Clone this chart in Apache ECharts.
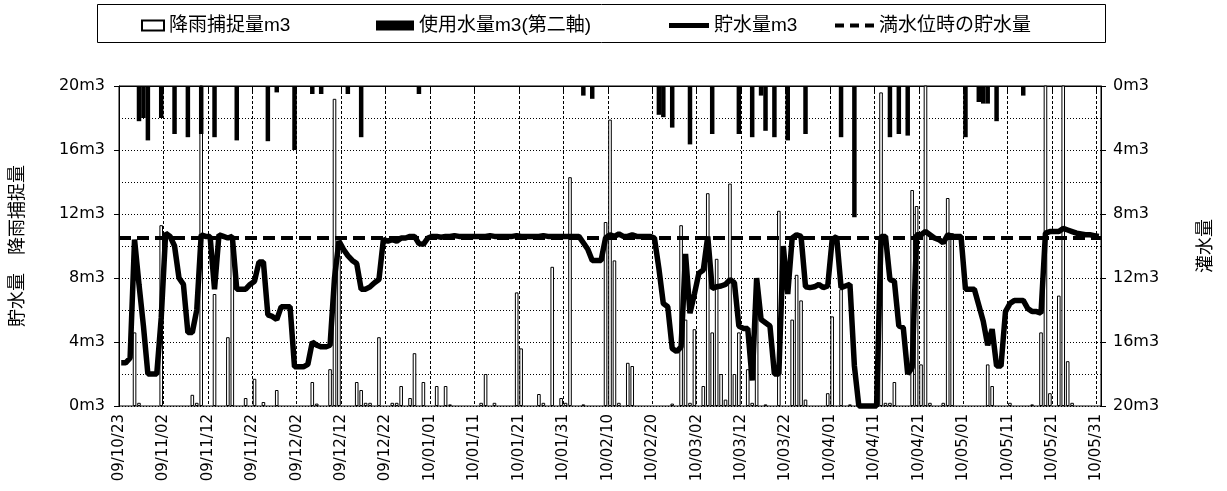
<!DOCTYPE html>
<html><head><meta charset="utf-8">
<script src="https://cdn.jsdelivr.net/npm/echarts@6/dist/echarts.min.js"></script>
<style>html,body{margin:0;padding:0;background:#fff}#c{width:1227px;height:491px}</style>
</head><body><div id="c"></div>
<script>
// ---- data ----
const START_DATE = '2009-10-23';
const DAY_COUNT = 221;
const FULL_LEVEL = 10.5;  // 満水位時の貯水量

// 降雨捕捉量 m3 (left axis), one value per day, 10 per line starting at each tick date
const rain = [
  0,0,0,4.6,0.2,0,0,0,0,11.3,
  0,0,0,0,0,0,0.7,0.2,21,0,
  0,7.0,0,0,4.3,10.5,0,0,0.5,0,
  1.7,0,0.25,0,0,1.0,0,0,0,0,
  0,0,0,1.5,0.15,0,0,2.3,19.2,9.4,
  0,0,0,1.5,1.0,0.2,0.2,0,4.3,0,
  0,0.2,0.2,1.25,0,0.5,3.3,0,1.5,0,
  0,1.25,0,1.25,0.1,0,0,0,0,0,
  0,0.2,2.0,0,0.2,0,0,0,0,7.1,
  3.6,0,0,0,0.75,0.2,0,8.7,0,0.5,
  0.2,14.3,0,0,0.1,0,0,0,0,11.5,
  17.9,9.1,0.2,0,2.7,2.5,0,0,0,0,
  0,0,0,0,0.15,0,11.3,5.4,0.2,4.8,
  0,1.25,13.3,4.6,9.2,2.0,0.4,13.9,2.0,4.6,
  0,2.3,0.2,7.9,0,0.1,0,0,12.2,0,
  0,5.4,8.2,6.6,0.4,0,0,0,0,0.8,
  5.6,0,7.3,0,0.1,0,0,0,0,0,
  0,19.6,0.2,0.2,1.5,0,0,0,13.5,12.5,
  2.6,21,0.2,0,0,0.2,13.0,10.8,0,0,
  0,0,0,0,0,2.6,1.25,0,0,0,
  0.2,0,0,0,0,0.1,0,4.6,21,0.8,
  0,6.9,21,2.8,0.2,0,0,0,0,0,
  0
];

// 使用水量 m3 (second axis, inverted)
const usage = [
  0,0,0,0,2.2,2.0,3.4,0,0,2.0,
  0,0,3.0,0,0,3.2,0,0,3.0,0,
  0,3.2,0,0,0,0,3.4,0,0,0,
  0,0,0,3.45,0,0.4,0,0,0,4.0,
  0,0,0,0.5,0,0.5,0,0,0,0,
  0,0.5,0,0,3.2,0,0,0,0,0,
  0,0,0,0,0,0,0,0.5,0,0,
  0,0,0,0,0,0,0,0,0,0,
  0,0,0,0,0,0,0,0,0,0,
  0,0,0,0,0,0,0,0,0,0,
  0,0,0,0,0.6,0,0.8,0,0,0,
  0,0,0,0,0,0,0,0,0,0,
  0,1.8,1.95,0,2.6,0,0,0,3.65,0,
  0,0,0,3.0,0,0,0,0,0,3.0,
  0,0,3.2,0,0.6,2.8,0,3.2,0,0,
  3.4,0,0,0,3.0,0,0,0,0,0,
  0,0,3.2,0,0,8.2,0,0,0,0,
  0,0,0,3.2,0,3.0,0,3.1,0,0,
  0,0,0,0,0,0,0,0,0,0,
  3.2,0,0,1.0,1.1,1.1,0,2.2,0,0,
  0,0,0,0.6,0,0,0,0,0,0,
  0,0,0,0,0,0,0,0,0,0,
  0
];

// 貯水量 m3
const storage = [
  2.7,2.7,3.0,10.4,7.6,5.0,2.0,2.0,2.0,5.5,
  10.8,10.6,10.0,8.0,7.6,4.6,4.6,6.0,10.7,10.6,
  10.6,7.3,10.7,10.6,10.5,10.6,7.3,7.3,7.3,7.6,
  7.8,9.0,9.0,5.7,5.6,5.4,6.2,6.2,6.2,2.45,
  2.45,2.45,2.6,4.0,3.8,3.7,3.7,3.8,8.0,10.3,
  9.8,9.4,9.1,8.9,7.3,7.3,7.45,7.7,7.9,10.4,
  10.3,10.4,10.3,10.5,10.5,10.6,10.6,10.15,10.1,10.5,
  10.6,10.6,10.55,10.6,10.6,10.65,10.6,10.6,10.6,10.6,
  10.6,10.6,10.6,10.65,10.6,10.6,10.6,10.6,10.6,10.65,
  10.6,10.6,10.6,10.6,10.6,10.65,10.6,10.6,10.6,10.6,
  10.6,10.6,10.6,10.6,10.2,9.8,9.1,9.1,9.1,10.5,
  10.7,10.6,10.75,10.6,10.6,10.7,10.6,10.6,10.6,10.6,
  10.5,8.6,6.4,6.2,3.6,3.4,3.7,9.5,5.8,7.0,
  8.3,8.5,10.6,7.35,7.45,7.5,7.6,7.9,7.7,5.0,
  4.85,4.85,1.6,8.0,5.4,5.2,5.0,2.0,2.0,10.0,
  7.0,10.5,10.7,10.6,7.45,7.4,7.45,7.6,7.4,7.5,
  10.4,10.6,7.4,7.5,7.6,2.5,0,0,0,0,
  0,10.6,10.6,7.9,7.8,5.0,4.9,2.0,2.4,10.7,
  10.7,10.9,10.7,10.5,10.4,10.2,10.7,10.6,10.6,10.6,
  7.3,7.3,7.3,6.3,5.3,3.8,4.8,2.5,2.5,5.9,
  6.4,6.6,6.6,6.6,6.1,5.9,5.9,5.8,10.8,10.9,
  10.9,10.9,11.1,11.0,10.9,10.8,10.75,10.7,10.7,10.65,
  10.6
];

// ---- categories (one per day) ----
function fmt(d) {
  const yy = String(d.getUTCFullYear() % 100).padStart(2, '0');
  const mm = String(d.getUTCMonth() + 1).padStart(2, '0');
  const dd = String(d.getUTCDate()).padStart(2, '0');
  return yy + '/' + mm + '/' + dd;
}
const days = [];
const t0 = Date.parse(START_DATE + 'T00:00:00Z');
for (let i = 0; i <= DAY_COUNT; i++) days.push(fmt(new Date(t0 + i * 86400000)));
const dayCats = days.slice(0, DAY_COUNT);      // bands for the data
const boundaryCats = days;                      // DAY_COUNT+1 band boundaries for labels

const nz = a => a.map(v => (v === 0 ? null : v));

const FONT = 'Liberation Sans, "Noto Sans CJK JP", sans-serif';
const chart = echarts.init(document.getElementById('c'), null, {renderer: 'canvas'});
const hiddenCat = {
  type: 'category', data: dayCats, boundaryGap: true, gridIndex: 0,
  axisLine: {show: false}, axisTick: {show: false}, axisLabel: {show: false}, splitLine: {show: false}
};
const legText = {fontSize: 19, fontFamily: FONT, color: '#000'};
chart.setOption({
  animation: false,
  backgroundColor: '#fff',
  textStyle: {fontFamily: FONT, color: '#000'},
  grid: {left: 119, right: 126, top: 86, bottom: 85, show: true, borderColor: '#000', borderWidth: 1},
  graphic: [{
    type: 'rect', left: 95, top: 2, silent: true,
    shape: {width: 1008, height: 38},
    style: {fill: 'none', stroke: '#000', lineWidth: 1}
  }],
  legend: [
    {data: ['降雨捕捉量m3'], left: 136, top: 11, icon: 'rect', itemWidth: 22, itemHeight: 10, selectedMode: false, textStyle: legText},
    {data: ['使用水量m3(第二軸)'], left: 371, top: 11, icon: 'rect', itemWidth: 38, itemHeight: 10, selectedMode: false, textStyle: legText},
    {data: ['貯水量m3'], left: 664, top: 11, icon: 'rect', itemWidth: 40, itemHeight: 5, selectedMode: false, textStyle: legText,
     itemStyle: {color: '#000', borderWidth: 0}},
    {data: ['満水位時の貯水量'], left: 830, top: 11,
     icon: 'path://M0,0H9V4H0Z M15,0H24V4H15Z M30,0H39V4H30Z',
     itemWidth: 39, itemHeight: 4, selectedMode: false, textStyle: legText,
     itemStyle: {color: '#000', borderWidth: 0}}
  ],
  xAxis: [
    Object.assign({}, hiddenCat),
    {
      type: 'category', data: boundaryCats, boundaryGap: false, gridIndex: 0, position: 'bottom',
      axisLine: {show: true, lineStyle: {color: '#000', width: 1}},
      axisTick: {show: true, interval: 9, length: 5, lineStyle: {color: '#000'}},
      axisLabel: {interval: 9, rotate: 90, fontSize: 15, color: '#000', margin: 8, fontFamily: 'DejaVu Sans'},
      splitLine: {show: true, interval: 9, lineStyle: {color: '#000', type: [3, 2], width: 1}}
    },
    Object.assign({}, hiddenCat)
  ],
  yAxis: [
    {
      type: 'value', min: 0, max: 20, interval: 4, position: 'left',
      axisLine: {show: true, lineStyle: {color: '#000'}},
      axisTick: {show: true, length: 5, lineStyle: {color: '#000'}},
      axisLabel: {formatter: '{value}m3', fontSize: 16, color: '#000', margin: 14, fontFamily: 'DejaVu Sans'},
      splitLine: {show: true, lineStyle: {color: '#000', type: [1, 2], width: 1}},
      minorTick: {show: false, splitNumber: 2},
      minorSplitLine: {show: true, lineStyle: {color: '#000', type: [1, 2], width: 1}},
      name: '貯水量　降雨捕捉量', nameLocation: 'middle', nameRotate: 90, nameGap: 92,
      nameTextStyle: {fontSize: 18, color: '#000', fontFamily: FONT}
    },
    {
      type: 'value', min: 0, max: 20, interval: 4, position: 'right', inverse: true,
      axisLine: {show: true, lineStyle: {color: '#000'}},
      axisTick: {show: true, length: 5, lineStyle: {color: '#000'}},
      axisLabel: {formatter: '{value}m3', fontSize: 16, color: '#000', margin: 12, fontFamily: 'DejaVu Sans'},
      splitLine: {show: false},
      name: '灌水量', nameLocation: 'middle', nameRotate: 90, nameGap: 96,
      nameTextStyle: {fontSize: 18, color: '#000', fontFamily: FONT}
    }
  ],
  series: [
    {
      name: '降雨捕捉量m3', type: 'bar', xAxisIndex: 0, yAxisIndex: 0, data: nz(rain),
      barWidth: 3.6, z: 2,
      itemStyle: {color: '#fff', borderColor: '#000', borderWidth: 1}
    },
    {
      name: '使用水量m3(第二軸)', type: 'bar', xAxisIndex: 2, yAxisIndex: 1, data: nz(usage),
      barWidth: 4.5, z: 3,
      itemStyle: {color: '#000'}
    },
    {
      name: '満水位時の貯水量', type: 'line', xAxisIndex: 0, yAxisIndex: 0, data: [], symbol: 'none', z: 4,
      lineStyle: {color: '#000', width: 4, type: [8, 5]},
      itemStyle: {color: '#000'},
      markLine: {
        silent: true, symbol: 'none', label: {show: false},
        lineStyle: {color: '#000', width: 4, type: [12, 6]},
        data: [{yAxis: FULL_LEVEL}]
      }
    },
    {
      name: '貯水量m3', type: 'line', xAxisIndex: 0, yAxisIndex: 0, data: storage, symbol: 'none', z: 5,
      clip: false,
      lineStyle: {color: '#000', width: 5.5},
      itemStyle: {color: '#000'}
    }
  ]
});
</script>
</body></html>
